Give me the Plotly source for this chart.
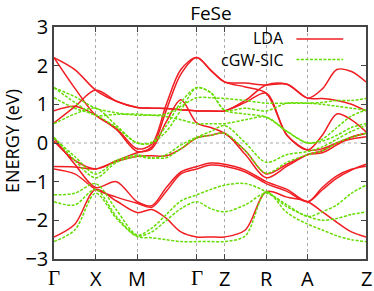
import plotly.graph_objects as go

# k-path sample positions (Γ X M Γ Z R A Z with intermediate samples)
kpts = [0, 0.5, 1, 1.5, 2, 2.35, 2.7, 3.05, 3.43, 3.77, 4.1, 4.6, 5.1, 5.6, 6.1, 6.45, 6.8, 7.15, 7.5]
sym_pos = [0, 1, 2, 3.43, 4.1, 5.1, 6.1, 7.5]
sym_lab = ["Γ", "X", "M", "Γ", "Z", "R", "A", "Z"]
y_ticks = [-3, -2, -1, 0, 1, 2, 3]

# LDA bands (eV)
lda_1 = [2.21, 1.90, 1.37, 1.08, 0.92, 0.90, 0.89, 0.86, 0.83, 0.83, 0.83, 1.10, 1.50, 1.52, 1.16, 1.15, 1.10, 1.00, 0.83]
lda_2 = [2.21, 1.42, 0.72, 0.38, -0.15, -0.03, 1.00, 1.90, 2.21, 1.88, 1.58, 1.55, 1.50, 1.52, 1.16, 1.40, 1.90, 1.85, 1.58]
lda_3 = [0.83, 0.95, 0.72, 0.35, -0.22, -0.10, 0.85, 1.78, 2.21, 1.88, 1.58, 1.45, 1.29, 0.20, -0.18, 0.20, 0.75, 0.60, 0.29]
lda_4 = [0.52, 0.94, 1.37, 1.08, 0.92, 0.90, 0.89, 0.86, 0.83, 0.83, 0.83, 1.05, 1.29, 0.20, -0.18, -0.15, 0.00, 0.10, 0.16]
lda_5 = [-0.61, -0.62, -0.67, -0.46, -0.25, -0.15, 0.55, 1.12, 0.52, 0.40, 0.25, -0.20, -0.80, -0.55, -0.30, -0.25, -0.05, 0.15, 0.25]
lda_6 = [0.05, -0.45, -0.67, -0.48, -0.34, -0.33, -0.33, -0.15, 0.13, 0.20, 0.25, -0.30, -0.90, -0.60, -0.30, -0.20, 0.00, 0.15, 0.25]
lda_7 = [0.13, -0.55, -1.15, -1.00, -1.52, -1.62, -1.15, -0.75, -0.61, -0.52, -0.55, -0.70, -1.00, -1.20, -1.52, -1.21, -0.91, -0.70, -0.55]
lda_8 = [-0.67, -0.80, -1.20, -1.40, -1.56, -1.66, -1.25, -0.80, -0.67, -0.57, -0.60, -0.75, -1.05, -1.25, -1.52, -1.15, -0.85, -0.68, -0.60]
lda_9 = [-2.43, -2.10, -1.20, -1.50, -1.80, -1.72, -1.95, -2.30, -2.43, -2.43, -2.43, -2.25, -1.26, -1.40, -1.52, -1.78, -2.05, -2.30, -2.43]

# cGW-SIC bands (eV)
gw_1 = [1.43, 1.20, 0.90, 0.78, 0.72, 0.72, 0.68, 0.60, 0.50, 0.50, 0.50, 0.60, 0.67, 0.30, 0.00, 0.05, 0.20, 0.40, 0.50]
gw_2 = [1.43, 1.05, 0.72, 0.74, 0.75, 0.72, 0.75, 0.95, 1.17, 1.17, 1.15, 1.10, 1.03, 1.03, 1.03, 1.05, 1.10, 1.10, 1.15]
gw_3 = [1.17, 0.90, 0.72, 0.40, 0.00, 0.02, 0.45, 1.05, 1.43, 1.30, 0.85, 0.75, 0.67, 0.30, 0.00, 0.10, 0.40, 0.70, 0.85]
gw_4 = [0.50, 0.75, 0.90, 0.45, 0.00, 0.00, 0.30, 0.85, 1.43, 1.30, 0.85, 0.90, 0.83, 1.03, 1.03, 1.00, 0.95, 0.90, 0.85]
gw_5 = [0.13, -0.35, -0.80, -0.45, -0.31, -0.38, -0.38, -0.15, 0.13, 0.20, 0.25, -0.20, -0.78, -0.50, -0.30, -0.20, 0.00, 0.15, 0.25]
gw_6 = [0.15, -0.45, -0.90, -0.50, -0.35, -0.40, -0.30, -0.05, 0.15, 0.30, 0.45, 0.00, -0.50, -0.30, -0.22, -0.10, 0.10, 0.30, 0.45]
gw_7 = [-1.34, -1.30, -1.05, -1.73, -2.38, -2.20, -1.85, -1.50, -1.34, -1.20, -1.09, -1.05, -1.26, -1.60, -1.90, -1.78, -1.60, -1.30, -1.09]
gw_8 = [-1.52, -1.60, -1.20, -1.90, -2.40, -2.30, -2.00, -1.70, -1.52, -1.70, -1.78, -1.60, -1.30, -1.65, -1.90, -2.00, -1.95, -1.85, -1.78]
gw_9 = [-2.55, -2.25, -1.30, -1.95, -2.42, -2.45, -2.50, -2.55, -2.55, -2.55, -2.55, -2.40, -1.26, -1.80, -2.10, -2.25, -2.40, -2.50, -2.55]

lda_bands = [lda_1, lda_2, lda_3, lda_4, lda_5, lda_6, lda_7, lda_8, lda_9]
gw_bands = [gw_1, gw_2, gw_3, gw_4, gw_5, gw_6, gw_7, gw_8, gw_9]

RED = "#f01e23"
GREEN = "#66dd00"
AXC = "#444444"
FONT = "Open Sans"

fig = go.Figure()
for b in lda_bands:
    fig.add_trace(go.Scatter(x=kpts, y=b, mode="lines", showlegend=False, hoverinfo="skip",
                             line=dict(color=RED, width=1.5, shape="spline", smoothing=0.9)))
for b in gw_bands:
    fig.add_trace(go.Scatter(x=kpts, y=b, mode="lines", showlegend=False, hoverinfo="skip",
                             line=dict(color=GREEN, width=1.5, shape="spline", smoothing=0.9, dash="3px,1.5px")))

# zero-energy dotted reference line
fig.add_shape(type="line", xref="paper", x0=0, x1=1, yref="y", y0=0, y1=0,
              line=dict(color="#aaaaaa", width=1, dash="dot"), layer="below")

# legend (text left, sample line right, as in gnuplot)
fig.add_annotation(xref="paper", yref="paper", x=0.745, y=0.953, text="LDA", showarrow=False,
                   xanchor="right", yanchor="middle", font=dict(family=FONT, size=16, color="black"))
fig.add_annotation(xref="paper", yref="paper", x=0.745, y=0.858, text="cGW-SIC", showarrow=False,
                   xanchor="right", yanchor="middle", font=dict(family=FONT, size=16, color="black"))
fig.add_shape(type="line", xref="paper", yref="paper", x0=0.777, x1=0.927, y0=0.948, y1=0.948,
              line=dict(color=RED, width=1.5))
fig.add_shape(type="line", xref="paper", yref="paper", x0=0.777, x1=0.927, y0=0.860, y1=0.860,
              line=dict(color=GREEN, width=1.5, dash="3px,1.5px"))

# high-symmetry labels below the axis (Γ in a serif face as in the original)
for pos, lab in zip(sym_pos, sym_lab):
    fam = "Liberation Serif" if lab == "Γ" else FONT
    fig.add_annotation(x=pos, xref="x", y=0, yref="paper", text=lab, showarrow=False,
                       xanchor="center", yanchor="middle", yshift=-19,
                       font=dict(family=fam, size=21 if lab == "Γ" else 20, color="black"))

# y-axis title
fig.add_annotation(xref="paper", yref="paper", x=-0.137, y=0.51, text="ENERGY (eV)", showarrow=False,
                   textangle=-90, xanchor="center", yanchor="middle",
                   font=dict(family=FONT, size=18, color="black"))

fig.update_layout(
    width=374, height=291,
    margin=dict(l=54, r=6, t=27, b=32),
    paper_bgcolor="white", plot_bgcolor="white",
    title=dict(text="FeSe", x=0.564, xanchor="center", y=0.953, yanchor="middle",
               font=dict(family=FONT, size=19, color="black")),
    font=dict(family=FONT, size=18, color="black"),
    xaxis=dict(range=[0, 7.5], tickmode="array", tickvals=sym_pos, showticklabels=False,
               showgrid=True, gridcolor="#aaaaaa", gridwidth=1, griddash="dot",
               zeroline=False, showline=True, linecolor=AXC, linewidth=1.5, mirror="ticks",
               ticks="inside", ticklen=5, tickcolor=AXC),
    yaxis=dict(range=[-3, 3], tickmode="array", tickvals=y_ticks,
               showgrid=False, zeroline=False, showline=True, linecolor=AXC, linewidth=1.5,
               mirror="ticks", ticks="inside", ticklen=5, tickcolor=AXC, tickfont=dict(size=20)),
)

fig.write_html("out.html", config={"displayModeBar": False},
               post_script="document.body.style.margin='0';document.body.style.padding='0';")
